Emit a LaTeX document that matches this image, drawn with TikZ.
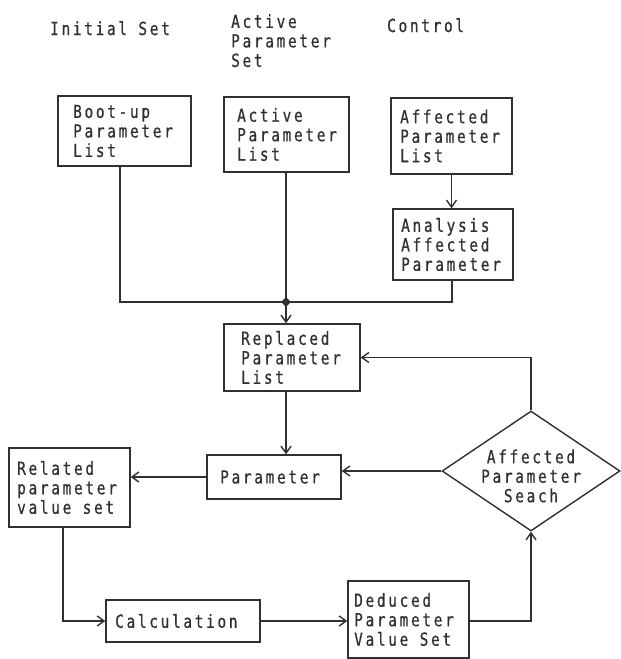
\documentclass[tikz,border=0pt]{standalone}
\usepackage{fontspec}
\newfontfamily\diagfont[FakeStretch=0.8,LetterSpace=15,FakeBold=0.6]{DejaVu Sans Mono}
\usetikzlibrary{arrows.meta,shapes.geometric}
\definecolor{ink}{HTML}{303030}
\hyphenpenalty=10000
\exhyphenpenalty=10000
\begin{document}
\begin{tikzpicture}[x=1pt,y=-1pt,
  every node/.style={font=\diagfont\fontsize{18}{19.5}\selectfont, text=ink},
  lbl/.style={inner sep=0pt, align=left},
  txt/.style={inner sep=0pt, align=left, anchor=west},
  box/.style={draw=ink, line width=1.4pt, rectangle, inner sep=0pt},
  conn/.style={draw=ink, line width=1.4pt},
  arr/.style={conn, -{Straight Barb[length=7pt,width=10pt,line width=1.4pt]}},
  jdot/.style={diamond, fill=ink, inner sep=0pt, minimum size=10pt}
]
\useasboundingbox[fill=white] (0,0) rectangle (621,659);

% column titles
\node[lbl, anchor=base west] (tInit) at (50,35) {Initial Set};
\node[lbl, anchor=north west] (tActive) at (231,14) {Active\\Parameter\\Set};
\node[lbl, anchor=base west] (tCtrl) at (387,32) {Control};

% boxes
\node[box, minimum width=133pt, minimum height=70pt] (boot) at (124.5,131) {};
\node[box, minimum width=125pt, minimum height=75pt] (active) at (286.5,134.5) {};
\node[box, minimum width=121pt, minimum height=76pt] (affected) at (451.5,136) {};
\node[box, minimum width=120pt, minimum height=71pt] (analysis) at (453,244.5) {};
\node[box, minimum width=136pt, minimum height=67pt] (replaced) at (292,357.5) {};
\node[box, minimum width=134pt, minimum height=44pt] (param) at (274,477) {};
\node[box, minimum width=121pt, minimum height=79pt] (related) at (69.5,487.5) {};
\node[box, minimum width=154pt, minimum height=42pt] (calc) at (183,621) {};
\node[box, minimum width=121pt, minimum height=77pt] (deduced) at (408.5,619.5) {};
\node[draw=ink, line width=1.4pt, diamond, minimum width=178pt, minimum height=120pt, inner sep=0pt] (search) at (531,471) {};

% box texts
\node[txt] (bootT) at (73,131) {Boot-up\\Parameter\\List};
\node[txt] (activeT) at (237,134.5) {Active\\Parameter\\List};
\node[txt] (affectedT) at (400,136) {Affected\\Parameter\\List};
\node[txt] (analysisT) at (401,244.5) {Analysis\\Affected\\Parameter};
\node[txt] (replacedT) at (241,357.5) {Replaced\\Parameter\\List};
\node[txt] (paramT) at (220,477) {Parameter};
\node[txt] (relatedT) at (17,487.5) {Related\\parameter\\value set};
\node[txt] (calcT) at (115,621) {Calculation};
\node[txt] (deducedT) at (354,619.5) {Deduced\\Parameter\\Value Set};
\node[lbl, align=center] (searchT) at (531,476) {Affected\\Parameter\\Seach};

% junction
\node[jdot] (junc) at (286,302) {};

% connectors
\draw[conn] ([xshift=-4.5pt]boot.south) |- (junc.center);
\draw[conn] (active.south -| junc) -- (junc.center);
\draw[conn] ([xshift=-1pt]analysis.south) |- (junc.center);
\draw[arr] (junc.center) -- (junc |- replaced.north);
\draw[arr] (affected.south) -- (affected.south |- analysis.north);
\draw[arr] (replaced.south -| junc) -- (junc |- param.north);
\draw[arr] (search.north) |- (replaced.east);
\draw[arr] (search.west) -- (search.west -| param.east);
\draw[arr] (param.west) -- (param.west -| related.east);
\draw[arr] ([xshift=-6.5pt]related.south) |- (calc.west);
\draw[arr] (calc.east) -- (calc.east -| deduced.west);
\draw[arr] (deduced.east |- calc.east) -| (search.south);
\end{tikzpicture}
\end{document}
